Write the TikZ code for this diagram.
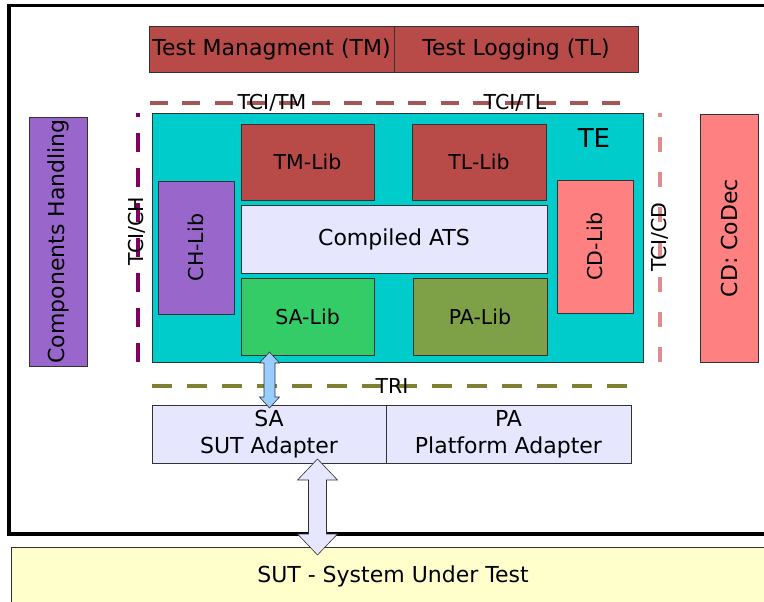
\documentclass[tikz,border=0pt]{standalone}
\usepackage{fontspec}
\setmainfont{DejaVu Sans}
\usetikzlibrary{calc}
\definecolor{tmred}{RGB}{184,74,72}
\definecolor{tecyan}{RGB}{0,204,204}
\definecolor{chpurple}{RGB}{153,102,204}
\definecolor{cdsalmon}{RGB}{255,128,128}
\definecolor{sagreen}{RGB}{51,204,102}
\definecolor{paolive}{RGB}{126,160,70}
\definecolor{lav}{RGB}{230,230,255}
\definecolor{ltblue}{RGB}{153,204,255}
\definecolor{sutyel}{RGB}{255,255,204}
\definecolor{tcired}{RGB}{166,84,84}
\definecolor{tcipurple}{RGB}{128,0,96}
\definecolor{tcipink}{RGB}{224,140,140}
\definecolor{trioliv}{RGB}{128,128,51}
\definecolor{edge}{RGB}{50,50,50}
\newcommand{\vdarrow}[6]{%
  \draw[#6] (#1) -- ($(#1)+(#4,#5)$) -- ($(#1)+(#3,#5)$) -- ($(#2)+(#3,-#5)$)
    -- ($(#2)+(#4,-#5)$) -- (#2) -- ($(#2)+(-#4,-#5)$) -- ($(#2)+(-#3,-#5)$)
    -- ($(#1)+(-#3,#5)$) -- ($(#1)+(-#4,#5)$) -- cycle;}
\begin{document}
\begin{tikzpicture}[x=1pt,y=-1pt,
  box/.style={draw=edge, line width=0.8pt, inner sep=0pt, outer sep=0pt,
    font=\fontsize{22pt}{27pt}\selectfont, align=center},
  libbox/.style={box, font=\fontsize{20.5pt}{24pt}\selectfont},
  lbl/.style={inner sep=0pt, font=\fontsize{22pt}{27pt}\selectfont},
  liblbl/.style={inner sep=0pt, font=\fontsize{20.5pt}{24pt}\selectfont},
  tciline/.style={line width=4pt, dash pattern=on 18pt off 14.3pt}
]
\useasboundingbox (0,0) rectangle (764,602);
\clip (0,0) rectangle (764,602);
\fill[white] (0,0) rectangle (764,602);

% outer frame
\draw[line width=3.5pt, black] (9,5.7) rectangle (800,534);

% TM / TL bar
\node[box, fill=tmred, minimum width=245pt, minimum height=46pt] (tm) at (271.5,49) {Test Managment (TM)};
\node[box, fill=tmred, minimum width=244pt, minimum height=46pt] (tl) at (516,49) {Test Logging (TL)};

% TE
\node[box, fill=tecyan, minimum width=491pt, minimum height=249pt] (te) at (397.5,237.5) {};
\node[inner sep=0pt, font=\fontsize{26pt}{30pt}\selectfont] (telbl) at (594,138) {TE};

\node[libbox, fill=tmred, minimum width=133pt, minimum height=76pt] (tmlib) at (307.5,162) {TM-Lib};
\node[libbox, fill=tmred, minimum width=134pt, minimum height=76pt] (tllib) at (479,162) {TL-Lib};
\node[libbox, fill=chpurple, minimum width=76pt, minimum height=133pt] (chlib) at (196,247.5) {};
\node[liblbl, rotate=90] (chliblbl) at (chlib) {CH-Lib};
\node[box, fill=lav, minimum width=306pt, minimum height=68pt] (ats) at (394,239) {Compiled ATS};
\node[libbox, fill=cdsalmon, minimum width=76pt, minimum height=133pt] (cdlib) at (595,246.5) {};
\node[liblbl, rotate=90] (cdliblbl) at (cdlib) {CD-Lib};
\node[libbox, fill=sagreen, minimum width=133pt, minimum height=77pt] (salib) at (307.5,316.5) {SA-Lib};
\node[libbox, fill=paolive, minimum width=134pt, minimum height=77pt] (palib) at (480,316.5) {PA-Lib};

% side boxes
\node[box, fill=chpurple, minimum width=58pt, minimum height=249pt] (comph) at (58,241.5) {};
\node[lbl, rotate=90] (comphlbl) at (comph) {Components Handling};
\node[box, fill=cdsalmon, minimum width=58pt, minimum height=248pt] (codec) at (729,238) {};
\node[lbl, rotate=90] (codeclbl) at (codec) {CD: CoDec};

% TCI lines
\coordinate (tciA) at (150,103);
\coordinate (tciB) at (621,103);
\draw[tciline, tcired] (tciA) -- (tciB);
\node[liblbl] (tcitm) at (272,103) {TCI/TM};
\node[liblbl] (tcitl) at (515,103) {TCI/TL};

\coordinate (chA) at (138,362);
\coordinate (chB) at (138,113);
\draw[line width=4pt, tcipurple, dash pattern=on 19pt off 16pt] (chA) -- (chB);
\node[liblbl, rotate=90] (tcich) at (137,231) {TCI/CH};

\coordinate (cdA) at (660,362);
\coordinate (cdB) at (660,113);
\draw[line width=3.5pt, tcipink, dash pattern=on 15pt off 20pt] (cdA) -- (cdB);
\node[liblbl, rotate=90] (tcicd) at (660,237) {TCI/CD};

\coordinate (triA) at (152,386);
\coordinate (triB) at (630,386);
\draw[line width=4.7pt, trioliv, dash pattern=on 20pt off 15pt] (triA) -- (triB);
\node[liblbl] (tri) at (392,386) {TRI};

% adapters
\node[box, fill=lav, minimum width=234pt, minimum height=58pt] (sabox) at (269,434) {SA\\SUT Adapter};
\node[box, fill=lav, minimum width=245pt, minimum height=58pt] (pabox) at (508.5,434) {PA\\Platform Adapter};

% SUT
\node[box, fill=sutyel, minimum width=764pt, minimum height=58pt] (sut) at (393,576) {SUT - System Under Test};

% arrows
\coordinate (a1) at ($(salib.south west)+(28.5,-3)$);
\coordinate (a2) at ($(sabox.north west)+(117.5,3)$);
\vdarrow{a1}{a2}{5.5}{10}{11}{draw=edge, line width=0.6pt, fill=ltblue}

\coordinate (b1) at ($(sabox.south west)+(165.5,-4)$);
\coordinate (b2) at ($(sut.north)+(-75.5,8)$);
\vdarrow{b1}{b2}{9}{20}{21}{draw=edge, line width=0.6pt, fill=lav}
\end{tikzpicture}
\end{document}
